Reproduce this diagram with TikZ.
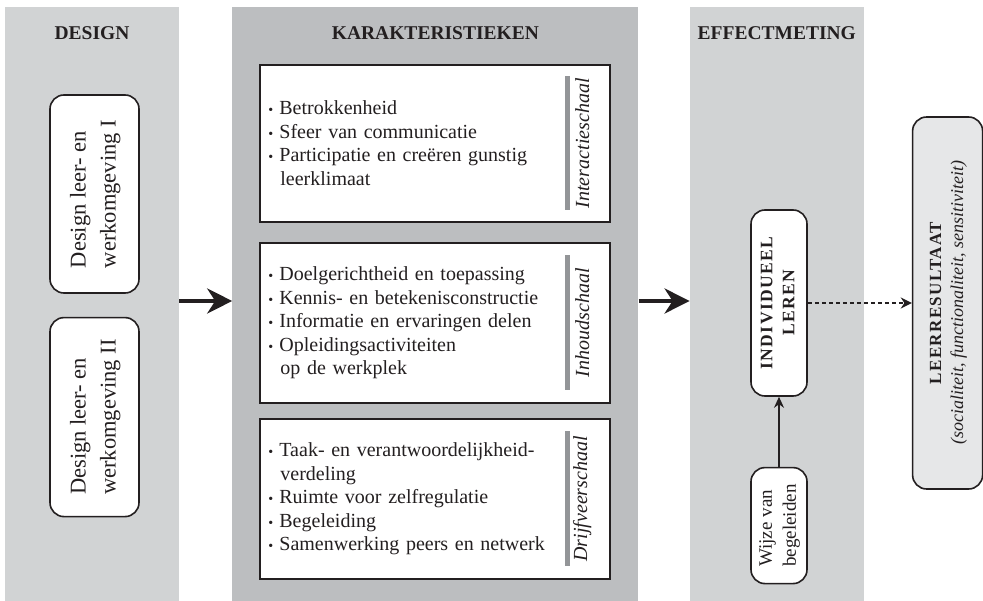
\documentclass[tikz,border=0pt]{standalone}
\usepackage{fontspec}
\setmainfont{Liberation Serif}
\usetikzlibrary{positioning,arrows.meta}
\definecolor{panellight}{HTML}{D1D3D4}
\definecolor{paneldark}{HTML}{BCBEC0}
\definecolor{resultfill}{HTML}{E6E7E8}
\definecolor{bargray}{HTML}{939598}
\definecolor{ink}{HTML}{231F20}
\newcommand\vlines[2][c]{\rotatebox{90}{\begin{tabular}{@{}#1@{}}#2\end{tabular}}}
\newcommand\itm{\makebox[11pt][l]{\scalebox{.7}{\textbullet}}}
\newcommand\cont{\hspace*{12pt}}
\newcommand\spaced{\addfontfeatures{LetterSpace=8}}

\begin{document}
\begin{tikzpicture}[x=1pt,y=-1pt,every node/.append style={text=ink},
panel/.style={fill=#1,inner sep=0,minimum width=174pt,minimum height=594pt},
head/.style={inner sep=0,font=\fontsize{19.5}{23}\selectfont\bfseries},
listbox/.style={draw=ink,line width=2pt,fill=white,text width=334pt,inner xsep=8pt,align=left,minimum height=160pt,font=\fontsize{20}{23.5}\selectfont},
bar/.style={fill=bargray,inner sep=0,minimum width=5pt,minimum height=135pt},
scalelbl/.style={rotate=90,inner sep=0,font=\fontsize{20}{23}\selectfont\itshape},
rbox/.style={draw=ink,line width=1.6pt,rounded corners=14pt,fill=white,inner sep=0},
bigarr/.style={-{Stealth[length=25pt,width=25pt,inset=8pt]},line width=4pt,draw=ink},
dotarr/.style={-{Stealth[length=11pt,width=11pt]},line width=2.5pt,dash pattern=on 4pt off 3pt,draw=ink},
thinarr/.style={-{Stealth[length=11pt,width=10pt]},line width=1.5pt,draw=ink}]
\useasboundingbox (0,0) rectangle (983,601);

\node[panel=panellight] (design) at (92,304) {};
\node[panel=paneldark,minimum width=406pt,right=53pt of design] (kar) {};
\node[panel=panellight,right=51pt of kar] (effect) {};
\node[head,below=20pt of design.north] (designhead) {DESIGN};
\node[head,below=20pt of kar.north] (karhead) {KARAKTERISTIEKEN};
\node[head,below=20pt of effect.north] (effecthead) {EFFECTMETING};

\node[rbox,minimum width=89pt,minimum height=198pt,font=\fontsize{22.5}{30}\selectfont] (dbox1) at (94.5,194) {\vlines[l]{Design leer- en\\werkomgeving I}};
\node[rbox,minimum width=89pt,minimum height=199pt,font=\fontsize{22.5}{30}\selectfont,below=23pt of dbox1] (dbox2) {\vlines[l]{Design leer- en\\werkomgeving II}};

\node[listbox,minimum height=157pt,below=57pt of kar.north] (inter) {\itm Betrokkenheid\\\itm Sfeer van communicatie\\\itm Participatie en creëren gunstig\\\cont leerklimaat};
\node[listbox,below=19pt of inter] (inhoud) {\itm Doelgerichtheid en toepassing\\\itm Kennis- en betekenisconstructie\\\itm Informatie en ervaringen delen\\\itm Opleidingsactiviteiten\\\cont op de werkplek};
\node[listbox,below=14pt of inhoud] (drijf) {\itm Taak- en verantwoordelijkheid-\\\cont verdeling\\\itm Ruimte voor zelfregulatie\\\itm Begeleiding\\\itm Samenwerking peers en netwerk};
\node[bar,minimum height=134pt,left=41pt of inter.east] (bar1) {};
\node[bar,left=41pt of inhoud.east] (bar2) {};
\node[bar,left=41pt of drijf.east] (bar3) {};
\node[scalelbl] (lbl1) at ([xshift=14.5pt]bar1.center) {Interactieschaal};
\node[scalelbl] (lbl2) at ([xshift=14.5pt]bar2.center) {Inhoudschaal};
\node[scalelbl] (lbl3) at ([xshift=14.5pt]bar3.center) {Drijfveerschaal};

\node[rbox,minimum width=56pt,minimum height=186pt,font=\fontsize{17.5}{22}\selectfont\bfseries\spaced] (indiv) at (779,303) {\vlines{INDIVIDUEEL\\LEREN}};
\node[rbox,minimum width=56pt,minimum height=116pt,font=\fontsize{19}{24}\selectfont,below=70pt of indiv] (wijze) {\vlines[l]{Wijze van\\begeleiden}};
\node[rbox,fill=resultfill,minimum width=70pt,minimum height=372pt,font=\fontsize{17}{22}\selectfont,right=104pt of indiv] (result) {\vlines{{\bfseries\spaced LEERRESULTAAT}\\{\fontsize{18}{22}\selectfont\itshape(socialiteit, functionaliteit, sensitiviteit)}}};

\draw[bigarr] ([yshift=3pt]design.east) -- ([yshift=3pt]kar.west);
\draw[bigarr] ([yshift=3pt]kar.east) -- ([yshift=3pt]effect.west);
\draw[dotarr] (indiv) -- (result);
\draw[thinarr] (wijze) -- (indiv);
\end{tikzpicture}
\end{document}
